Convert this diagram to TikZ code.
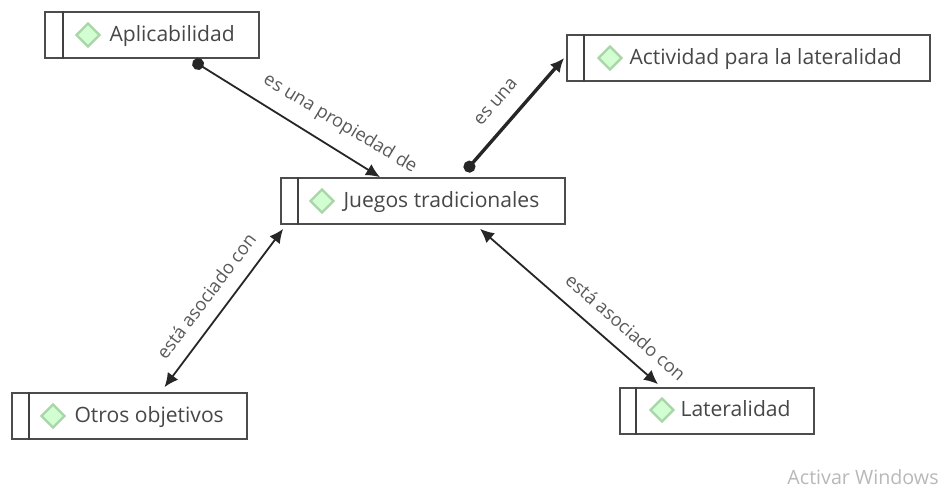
\documentclass[tikz,border=0pt]{standalone}
\usepackage{fontspec}
\setmainfont{Open Sans}
\usetikzlibrary{arrows.meta, calc, positioning, shapes.geometric}
\def\px{0.02cm}
\tikzset{
	conceptbox/.style = {draw = black!70, line width = 1.7*\px, fill = white, inner sep = 0, minimum height = 46*\px},
	conceptdiv/.style = {draw = black!75, line width = 1.7*\px},
	conceptmark/.style = {diamond, draw = green!35!gray!50, fill = green!18!white, line width = 2.4*\px, inner sep = 0, minimum size = 24*\px},
	concepttext/.style = {inner sep = 0, text = black!72, font = \fontsize{12pt}{14pt}\selectfont, text height = 8pt, text depth = 0.5pt},
	linktext/.style = {inner sep = 0, text = black!65, font = \fontsize{10.4pt}{12pt}\selectfont},
	linkline/.style = {draw = black!85, line width = 1.8*\px},
	oneway/.style = {linkline, {Circle[length = 12*\px]}-{Latex[length = 14*\px, width = 13*\px]}},
	twoway/.style = {linkline, {Latex[length = 14*\px, width = 13*\px]}-{Latex[length = 14*\px, width = 13*\px]}}
}
\begin{document}
\begin{tikzpicture}[x = 0.02cm, y = -0.02cm, node distance = 8*\px]
	\useasboundingbox (0, 0) rectangle (940, 487);
	% concept boxes
	\node[conceptbox, minimum width = 214*\px] (aplic) at (152, 35) {};
	\node[conceptbox, minimum width = 284*\px] (juegos) at (423, 201) {};
	\node[conceptbox, minimum width = 363*\px] (activ) at (748.5, 58) {};
	\node[conceptbox, minimum width = 235*\px] (otros) at (129.5, 416) {};
	\node[conceptbox, minimum width = 194*\px] (later) at (717, 411) {};
	% left bars
	\draw[conceptdiv] ($(aplic.north west) + (19, 0)$) -- ($(aplic.south west) + (19, 0)$);
	\draw[conceptdiv] ($(juegos.north west) + (18, 0)$) -- ($(juegos.south west) + (18, 0)$);
	\draw[conceptdiv] ($(activ.north west) + (18, 0)$) -- ($(activ.south west) + (18, 0)$);
	\draw[conceptdiv] ($(otros.north west) + (18, 0)$) -- ($(otros.south west) + (18, 0)$);
	\draw[conceptdiv] ($(later.north west) + (17, 0)$) -- ($(later.south west) + (17, 0)$);
	% marks and names
	\node[conceptmark] (aplicmark) at (88, 35) {};
	\node[concepttext, right = of aplicmark] (aplictext) {Aplicabilidad};
	\node[conceptmark] (juegosmark) at (322, 201) {};
	\node[concepttext, right = of juegosmark] (juegostext) {Juegos tradicionales};
	\node[conceptmark] (activmark) at (610, 58) {};
	\node[concepttext, right = 6*\px of activmark] (activtext) {Actividad para la lateralidad};
	\node[conceptmark] (otrosmark) at (53, 416) {};
	\node[concepttext, right = of otrosmark] (otrostext) {Otros objetivos};
	\node[conceptmark] (latermark) at (662, 410) {};
	\node[concepttext, right = 5*\px of latermark] (latertext) {Lateralidad};
	% links
	\draw[oneway] ($(aplic.south) + (41, 2)$) -- ($(juegos.north) + (-43, 0)$);
	\draw[oneway, line width = 3.4*\px] ($(juegos.north) + (42.5, -6)$) -- ($(activ.west) + (-2, 0)$);
	\draw[twoway] ($(otros.north) + (35, -5)$) -- ($(juegos.south west) + (3, 4)$);
	\draw[twoway] ($(juegos.south) + (57, 4)$) -- ($(later.north) + (-59, -3)$);
	% link names
	\node[linktext, rotate = -31] (proplabel) at (340, 124) {es una propiedad de};
	\node[linktext, rotate = 49] (esunalabel) at (496, 102) {es una};
	\node[linktext, rotate = 53] (otroslabel) at (206, 296) {está asociado con};
	\node[linktext, rotate = -41] (laterlabel) at (626, 327) {está asociado con};
	% corner
	\node[anchor = east, inner sep = 0, text = black!28, font = \fontsize{11.2pt}{13pt}\selectfont] (activar) at (939, 477) {Activar Windows};
\end{tikzpicture}
\end{document}
